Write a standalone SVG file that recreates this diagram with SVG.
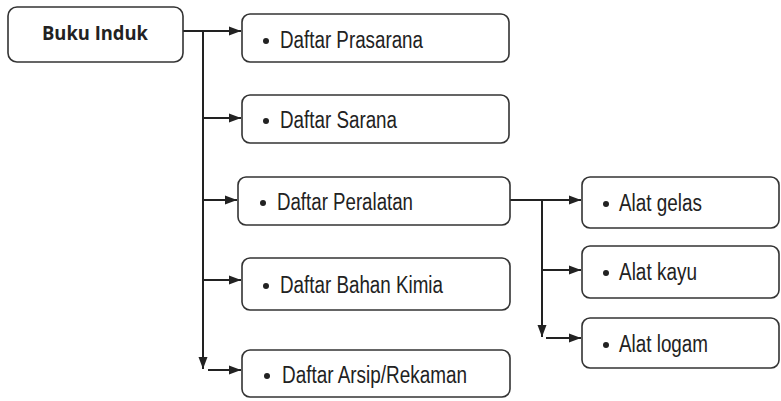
<svg xmlns="http://www.w3.org/2000/svg" width="781" height="401" viewBox="0 0 781 401">
<defs>
<style>
.box{fill:#fff;stroke:#333;stroke-width:1.6}
.t{font-family:"Liberation Sans",Arial,sans-serif;font-size:23px;fill:#222}
.tb{font-family:"Open Sans","Liberation Sans",sans-serif;font-weight:bold;font-size:20px;fill:#222}
.c{fill:none;stroke:#222;stroke-width:2}
.dot{fill:#222}
</style>
<marker id="ah" viewBox="0 0 12 10" refX="12" refY="5" markerWidth="12" markerHeight="10" markerUnits="userSpaceOnUse" orient="auto">
<path d="M0,0.5 L12,5 L0,9.5 Z" fill="#222"/>
</marker>
</defs>
<rect width="781" height="401" fill="#fff"/>
<g id="connectors">
<path class="c" d="M183,31 H241" marker-end="url(#ah)"/>
<path class="c" d="M203,31 V369" marker-end="url(#ah)"/>
<path class="c" d="M203,118 H241" marker-end="url(#ah)"/>
<path class="c" d="M203,200 H237" marker-end="url(#ah)"/>
<path class="c" d="M203,280 H241" marker-end="url(#ah)"/>
<path class="c" d="M208,370 H241" marker-end="url(#ah)"/>
<path class="c" d="M510,200 H581" marker-end="url(#ah)"/>
<path class="c" d="M542,200 V337" marker-end="url(#ah)"/>
<path class="c" d="M542,270 H581" marker-end="url(#ah)"/>
<path class="c" d="M546,338 H581" marker-end="url(#ah)"/>
</g>
<g id="buku-induk">
<rect class="box" x="8" y="7" width="175" height="55" rx="9"/>
<text class="tb" x="42" y="40" textLength="106" lengthAdjust="spacingAndGlyphs">Buku Induk</text>
</g>
<g id="daftar-prasarana">
<rect class="box" x="242" y="14" width="267" height="48" rx="8"/>
<circle class="dot" cx="266" cy="41" r="3"/>
<text class="t" x="280" y="48" textLength="143" lengthAdjust="spacingAndGlyphs">Daftar Prasarana</text>
</g>
<g id="daftar-sarana">
<rect class="box" x="242" y="95" width="267" height="48" rx="8"/>
<circle class="dot" cx="266" cy="121" r="3"/>
<text class="t" x="280" y="128" textLength="117" lengthAdjust="spacingAndGlyphs">Daftar Sarana</text>
</g>
<g id="daftar-peralatan">
<rect class="box" x="238" y="177" width="272" height="48" rx="8"/>
<circle class="dot" cx="263" cy="203" r="3"/>
<text class="t" x="277" y="210" textLength="136" lengthAdjust="spacingAndGlyphs">Daftar Peralatan</text>
</g>
<g id="daftar-bahan-kimia">
<rect class="box" x="242" y="258" width="268" height="52" rx="8"/>
<circle class="dot" cx="266" cy="286" r="3"/>
<text class="t" x="280" y="293" textLength="163" lengthAdjust="spacingAndGlyphs">Daftar Bahan Kimia</text>
</g>
<g id="daftar-arsip">
<rect class="box" x="242" y="350" width="268" height="47" rx="8"/>
<circle class="dot" cx="267" cy="376" r="3"/>
<text class="t" x="282" y="383" textLength="185" lengthAdjust="spacingAndGlyphs">Daftar Arsip/Rekaman</text>
</g>
<g id="alat-gelas">
<rect class="box" x="582" y="177" width="197" height="51" rx="8"/>
<circle class="dot" cx="606" cy="204" r="3"/>
<text class="t" x="619" y="211" textLength="83" lengthAdjust="spacingAndGlyphs">Alat gelas</text>
</g>
<g id="alat-kayu">
<rect class="box" x="582" y="246" width="197" height="52" rx="8"/>
<circle class="dot" cx="606" cy="273" r="3"/>
<text class="t" x="619" y="280" textLength="78" lengthAdjust="spacingAndGlyphs">Alat kayu</text>
</g>
<g id="alat-logam">
<rect class="box" x="582" y="318" width="197" height="50" rx="8"/>
<circle class="dot" cx="606" cy="345" r="3"/>
<text class="t" x="619" y="352" textLength="89" lengthAdjust="spacingAndGlyphs">Alat logam</text>
</g>
</svg>
